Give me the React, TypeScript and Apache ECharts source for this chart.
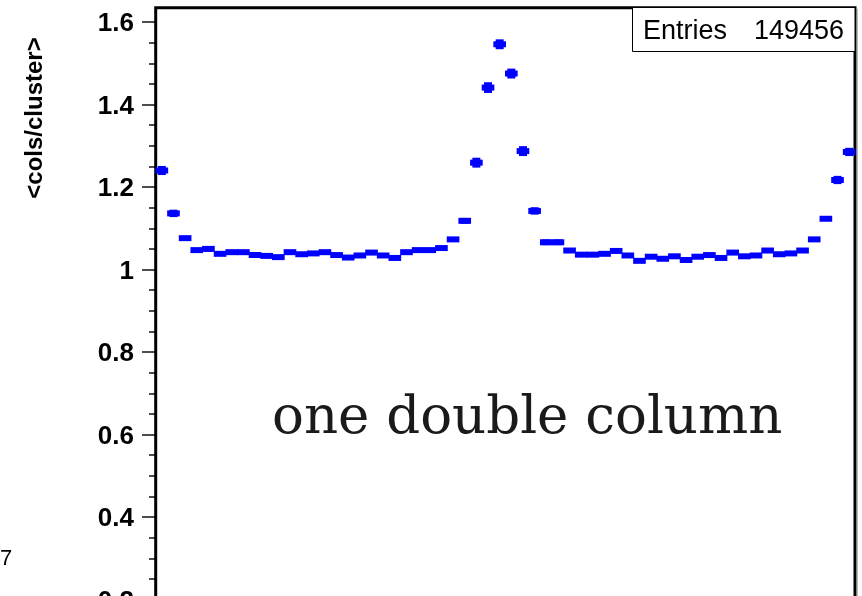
import React, { useEffect, useRef } from "react";
import * as echarts from "echarts";

// number of bins on the (hidden) x axis
const binCount = 60;

// mean number of columns per cluster, per bin
const meanCols = [
  1.240, 1.136, 1.076, 1.047, 1.050, 1.038, 1.042, 1.042, 1.035, 1.033,
  1.030, 1.042, 1.037, 1.039, 1.042, 1.035, 1.029, 1.034, 1.041, 1.034,
  1.028, 1.042, 1.047, 1.047, 1.052, 1.073, 1.118, 1.259, 1.441, 1.546,
  1.475, 1.287, 1.142, 1.066, 1.066, 1.046, 1.036, 1.036, 1.038, 1.045,
  1.034, 1.021, 1.031, 1.026, 1.032, 1.023, 1.031, 1.035, 1.028, 1.041,
  1.032, 1.034, 1.046, 1.037, 1.039, 1.046, 1.073, 1.123, 1.217, 1.285,
];

// error on the mean, per bin
const meanErr = [
  0.011, 0.009, 0.004, 0.004, 0.007, 0.004, 0.004, 0.004, 0.004, 0.004,
  0.004, 0.004, 0.004, 0.004, 0.004, 0.004, 0.004, 0.004, 0.004, 0.004,
  0.004, 0.004, 0.004, 0.004, 0.004, 0.005, 0.007, 0.012, 0.013, 0.012,
  0.012, 0.012, 0.009, 0.007, 0.007, 0.004, 0.004, 0.004, 0.004, 0.004,
  0.004, 0.004, 0.004, 0.004, 0.004, 0.004, 0.004, 0.004, 0.004, 0.004,
  0.004, 0.004, 0.004, 0.004, 0.004, 0.004, 0.005, 0.005, 0.010, 0.010,
];

const yTitle = "<cols/cluster>";
const entriesLabel = "Entries";
const entriesValue = "149456";
const annotation = "one double column";
const cornerFragment = "7";

const BLUE = "#0000ff";
const SANS = "Liberation Sans, Arial, sans-serif";

export default function App() {
  const ref = useRef<HTMLDivElement>(null);

  useEffect(() => {
    if (!ref.current) return;
    const chart = echarts.init(ref.current, null, { renderer: "svg" });
    const data = meanCols.map((v, i) => [i, v, meanErr[i]]);

    chart.setOption({
      animation: false,
      grid: {
        left: 156,
        top: 22,
        width: 699,
        height: 660,
        outerBoundsMode: "none",
        containLabel: false,
      },
      xAxis: { type: "value", min: 0, max: binCount, show: false },
      yAxis: {
        type: "value",
        min: 0,
        max: 1.6,
        interval: 0.2,
        axisLine: { show: false },
        axisTick: {
          show: true,
          inside: false,
          length: 14,
          lineStyle: { color: "#111", width: 1.5 },
        },
        minorTick: {
          show: true,
          splitNumber: 4,
          length: 7,
          lineStyle: { color: "#111", width: 1.5 },
        },
        splitLine: { show: false },
        minorSplitLine: { show: false },
        axisLabel: {
          margin: 22,
          fontSize: 26,
          fontWeight: "bold",
          fontFamily: SANS,
          color: "#000",
        },
      },
      series: [
        {
          type: "custom",
          clip: false,
          data,
          encode: { x: 0, y: 1 },
          renderItem: (params: any, api: any) => {
            const i = api.value(0);
            const v = api.value(1);
            const e = api.value(2);
            const p0 = api.coord([i, v]);
            const p1 = api.coord([i + 1, v]);
            const cx = (p0[0] + p1[0]) / 2;
            const top = api.coord([i + 0.5, v + e])[1];
            const bot = api.coord([i + 0.5, v - e])[1];
            return {
              type: "group",
              children: [
                {
                  type: "rect",
                  shape: {
                    x: p0[0] - 0.5,
                    y: p0[1] - 3,
                    width: p1[0] - p0[0] + 1,
                    height: 6,
                  },
                  style: { fill: BLUE },
                },
                {
                  type: "rect",
                  shape: { x: cx - 4, y: top, width: 8, height: bot - top },
                  style: { fill: BLUE },
                },
              ],
            };
          },
        },
      ],
      graphic: [
        {
          type: "rect",
          z: 1,
          shape: { x: 155.7, y: 7.7, width: 699.3, height: 700 },
          style: { fill: "none", stroke: "#000", lineWidth: 3 },
        },
        {
          type: "line",
          z: 1,
          shape: { x1: 857.5, y1: 9, x2: 857.5, y2: 700 },
          style: { stroke: "#bbb", lineWidth: 1 },
        },
        {
          type: "rect",
          z: 5,
          shape: { x: 632.5, y: 7.5, width: 222.5, height: 44 },
          style: { fill: "#fff", stroke: "#000", lineWidth: 1 },
        },
        {
          type: "text",
          z: 6,
          x: 643,
          y: 30,
          style: {
            text: entriesLabel,
            fontSize: 27,
            fontFamily: SANS,
            fill: "#000",
            align: "left",
            verticalAlign: "middle",
          },
        },
        {
          type: "text",
          z: 6,
          x: 844,
          y: 30,
          style: {
            text: entriesValue,
            fontSize: 27,
            fontFamily: SANS,
            fill: "#000",
            align: "right",
            verticalAlign: "middle",
          },
        },
        {
          type: "text",
          z: 6,
          x: 33,
          y: 118,
          rotation: Math.PI / 2,
          style: {
            text: yTitle,
            fontSize: 24,
            fontWeight: "bold",
            fontFamily: SANS,
            fill: "#000",
            align: "center",
            verticalAlign: "middle",
          },
        },
        {
          type: "text",
          z: 6,
          x: 272,
          y: 414,
          style: {
            text: annotation,
            fontSize: 53,
            fontFamily: "DejaVu Serif, serif",
            fill: "#1a1a1a",
            align: "left",
            verticalAlign: "middle",
          },
        },
        {
          type: "text",
          z: 6,
          x: 0,
          y: 557,
          style: {
            text: cornerFragment,
            fontSize: 22,
            fontFamily: SANS,
            fill: "#000",
            align: "left",
            verticalAlign: "middle",
          },
        },
      ],
    });

    return () => chart.dispose();
  }, []);

  return (
    <div
      ref={ref}
      style={{ position: "fixed", left: 0, top: 0, width: 862, height: 596 }}
    />
  );
}
